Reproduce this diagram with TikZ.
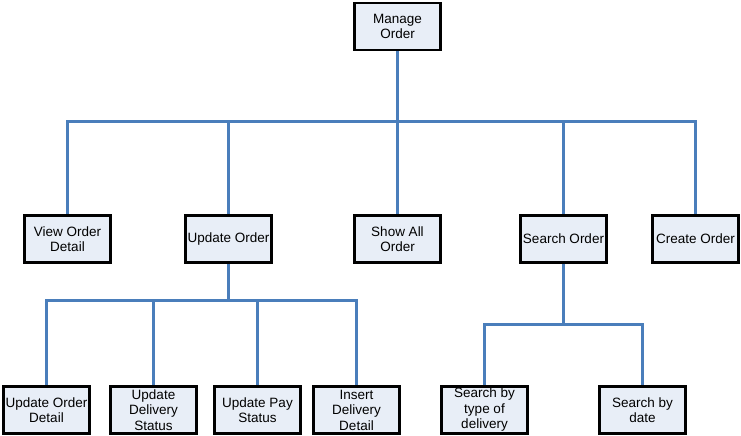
\documentclass[tikz,border=0pt]{standalone}
\usepackage{fontspec}
\setmainfont{Liberation Sans}
\usetikzlibrary{shadows}
\definecolor{linkblue}{RGB}{74,126,187}
\definecolor{boxfill}{RGB}{232,238,247}
\begin{document}
\begin{tikzpicture}[x=1pt,y=-1pt,
  box/.style={draw=black, line width=2.8pt, fill=boxfill, minimum width=86pt, minimum height=47pt,
    inner sep=1pt, align=center, font=\fontsize{13.5}{15.5}\selectfont,
    drop shadow={shadow xshift=1pt, shadow yshift=-1pt, fill=black!60, opacity=1}},
  conn/.style={draw=linkblue, line width=3pt}]
\useasboundingbox (0,0) rectangle (741,436);
% nodes
\node[box] (mo)  at (397.5,26.5) {Manage\\Order};
\node[box] (vod) at (67.5,239) {View Order\\Detail};
\node[box] (uo)  at (228.5,239) {Update Order};
\node[box] (sao) at (397.5,239) {Show All\\Order};
\node[box] (so)  at (563.5,239) {Search Order};
\node[box] (co)  at (695.5,239) {Create Order};
\node[box] (uod) at (46.5,410) {Update Order\\Detail};
\node[box] (uds) at (153.5,410) {Update\\Delivery\\Status};
\node[box] (ups) at (257.5,410) {Update Pay\\Status};
\node[box] (idd) at (356.5,410) {Insert\\Delivery\\Detail};
\node[box] (sbt) at (484.5,410) {Search by\\type of\\delivery};
\node[box] (sbd) at (642.5,410) {Search by\\date};
% bus coordinates
\coordinate (b1) at (397.5,121.5);
\coordinate (b2) at (228.5,300.5);
\coordinate (b3) at (563.5,324.5);
% connectors
\draw[conn] (mo.south) -- (b1);
\draw[conn] (b1) -| (vod.north);
\draw[conn] (b1) -| (uo.north);
\draw[conn] (b1) -- (sao.north);
\draw[conn] (b1) -| (so.north);
\draw[conn] (b1) -| (co.north);
\draw[conn] (uo.south) -- (b2);
\draw[conn] (b2) -| (uod.north);
\draw[conn] (b2) -| (uds.north);
\draw[conn] (b2) -| (ups.north);
\draw[conn] (b2) -| (idd.north);
\draw[conn] (so.south) -- (b3);
\draw[conn] (b3) -| (sbt.north);
\draw[conn] (b3) -| (sbd.north);
\end{tikzpicture}
\end{document}
